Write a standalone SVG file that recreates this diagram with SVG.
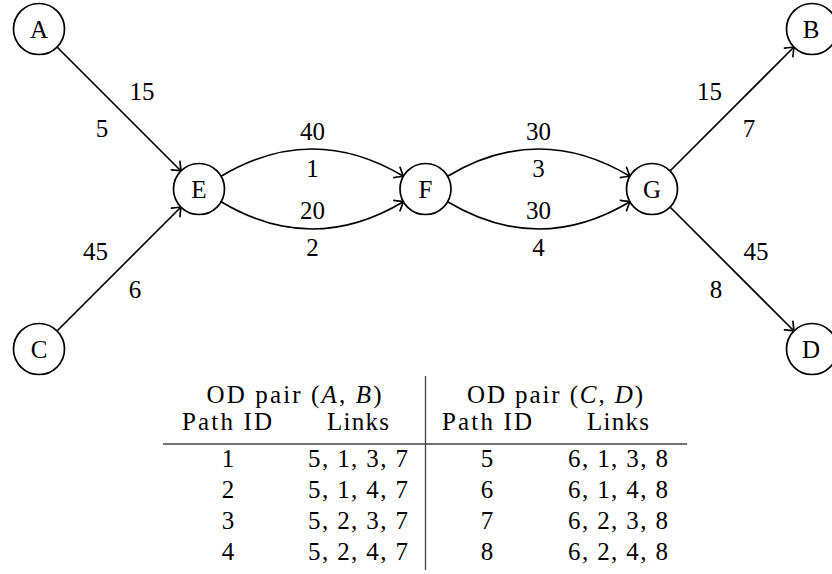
<svg xmlns="http://www.w3.org/2000/svg" width="832" height="574" viewBox="0 0 832 574">
<style>
text{font-family:"Liberation Serif","DejaVu Serif",serif;font-size:25px;fill:#000;text-anchor:middle}
.node circle{fill:#fff;stroke:#000;stroke-width:1.7}
.edge{fill:none;stroke:#000;stroke-width:1.7;marker-end:url(#arr)}
.tl{stroke:#444;stroke-width:1.3;fill:none}
</style>
<defs>
<marker id="arr" markerUnits="userSpaceOnUse" viewBox="-10 -8 12 16" refX="0" refY="0" markerWidth="12" markerHeight="16" orient="auto">
<path d="M-7.5,-6 Q-2,-1.5 0,0 Q-2,1.5 -7.5,6" fill="none" stroke="#000" stroke-width="1.7" stroke-linecap="round" stroke-linejoin="round"/>
</marker>
</defs>
<g id="connectors">
<path class="edge" d="M57,47 L181,171"/>
<path class="edge" d="M57,331 L181,207"/>
<path class="edge" d="M221.1,176.25 Q312.25,121.75 403.4,176.25"/>
<path class="edge" d="M221.1,201.75 Q312.25,256.25 403.4,201.75"/>
<path class="edge" d="M447.6,176.25 Q538.75,121.75 629.9,176.25"/>
<path class="edge" d="M447.6,201.75 Q538.75,256.25 629.9,201.75"/>
<path class="edge" d="M670,171 L794,47"/>
<path class="edge" d="M670,207 L794,331"/>
</g>
<g id="edge-labels">
<text x="142" y="100">15</text>
<text x="102" y="137">5</text>
<text x="95.5" y="260">45</text>
<text x="135" y="298">6</text>
<text x="312.5" y="140">40</text>
<text x="312.5" y="177">1</text>
<text x="312.5" y="219">20</text>
<text x="312.5" y="256">2</text>
<text x="538.5" y="140">30</text>
<text x="538.5" y="177">3</text>
<text x="538.5" y="219">30</text>
<text x="538.5" y="256">4</text>
<text x="709.5" y="100">15</text>
<text x="749" y="137">7</text>
<text x="756" y="260">45</text>
<text x="716" y="298">8</text>
</g>
<g id="A" class="node"><circle cx="39" cy="29" r="25.5"/><text x="39" y="37.5">A</text></g>
<g id="B" class="node"><circle cx="812" cy="29" r="25.5"/><text x="811" y="37.5">B</text></g>
<g id="C" class="node"><circle cx="39" cy="349" r="25.5"/><text x="39" y="357.5">C</text></g>
<g id="D" class="node"><circle cx="812" cy="349" r="25.5"/><text x="811" y="357.5">D</text></g>
<g id="E" class="node"><circle cx="199" cy="189" r="25.5"/><text x="199" y="197.5">E</text></g>
<g id="F" class="node"><circle cx="425.5" cy="189" r="25.5"/><text x="425.5" y="197.5">F</text></g>
<g id="G" class="node"><circle cx="652" cy="189" r="25.5"/><text x="652" y="197.5">G</text></g>
<g id="table">
<line class="tl" x1="425.5" y1="376" x2="425.5" y2="570"/>
<line class="tl" x1="163" y1="444" x2="687" y2="444"/>
<text x="294" y="403" textLength="175" lengthAdjust="spacing">OD pair (<tspan font-style="italic">A</tspan>, <tspan font-style="italic">B</tspan>)</text>
<text x="555" y="403" textLength="176" lengthAdjust="spacing">OD pair (<tspan font-style="italic">C</tspan>, <tspan font-style="italic">D</tspan>)</text>
<text x="227" y="430" textLength="90" lengthAdjust="spacing">Path ID</text>
<text x="358" y="430" textLength="62" lengthAdjust="spacing">Links</text>
<text x="487" y="430" textLength="90" lengthAdjust="spacing">Path ID</text>
<text x="618" y="430" textLength="62" lengthAdjust="spacing">Links</text>
<text x="228" y="467">1</text><text x="358" y="467" textLength="100" lengthAdjust="spacing">5, 1, 3, 7</text><text x="487" y="467">5</text><text x="618" y="467" textLength="100" lengthAdjust="spacing">6, 1, 3, 8</text>
<text x="228" y="498">2</text><text x="358" y="498" textLength="100" lengthAdjust="spacing">5, 1, 4, 7</text><text x="487" y="498">6</text><text x="618" y="498" textLength="100" lengthAdjust="spacing">6, 1, 4, 8</text>
<text x="228" y="529">3</text><text x="358" y="529" textLength="100" lengthAdjust="spacing">5, 2, 3, 7</text><text x="487" y="529">7</text><text x="618" y="529" textLength="100" lengthAdjust="spacing">6, 2, 3, 8</text>
<text x="228" y="560">4</text><text x="358" y="560" textLength="100" lengthAdjust="spacing">5, 2, 4, 7</text><text x="487" y="560">8</text><text x="618" y="560" textLength="100" lengthAdjust="spacing">6, 2, 4, 8</text>
</g>
</svg>
